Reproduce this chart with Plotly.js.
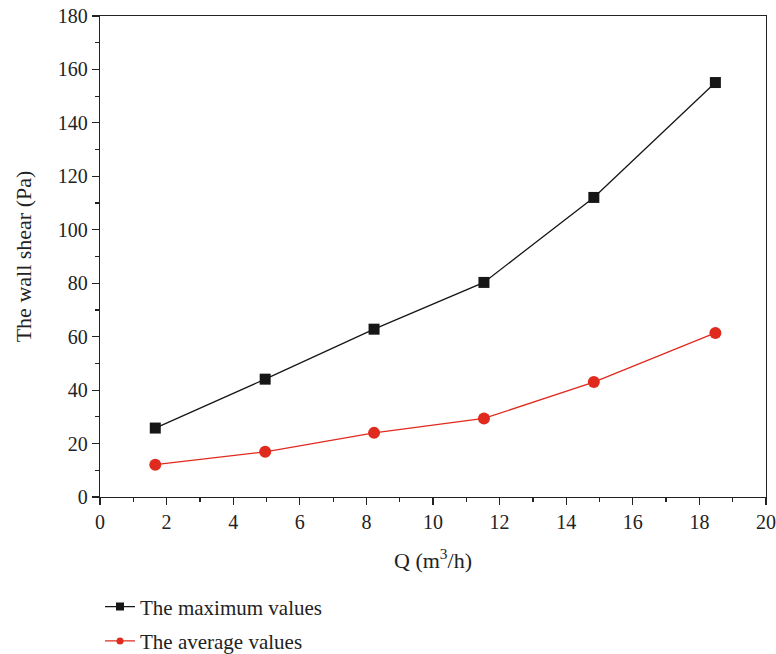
<!DOCTYPE html>
<html>
<head>
<meta charset="utf-8">
<script src="https://cdn.plot.ly/plotly-3.0.1.min.js"></script>
<style>
  html, body { margin: 0; padding: 0; background: #fff; }
  #chart { width: 776px; height: 654px; }
</style>
</head>
<body>
<div id="chart"></div>
<script>
// Flow rate Q (m³/h)
const flowRate = [1.66, 4.96, 8.23, 11.53, 14.83, 18.48];
// Wall shear stress (Pa)
const maxShear = [25.8, 44.1, 62.8, 80.3, 112.1, 155.1];
const avgShear = [12.1, 16.9, 24.0, 29.4, 43.0, 61.4];
const seriesNames = ['The maximum values', 'The average values'];

const BLACK = '#161616';
const RED = '#e02a1e';
const FONT = 'Liberation Serif, Times New Roman, serif';

const traces = [
  {
    x: flowRate, y: maxShear, type: 'scatter', mode: 'lines+markers',
    line: { color: BLACK, width: 1.3 },
    marker: { symbol: 'square', size: 11, color: BLACK },
    showlegend: false
  },
  {
    x: flowRate, y: avgShear, type: 'scatter', mode: 'lines+markers',
    line: { color: RED, width: 1.3 },
    marker: { symbol: 'circle', size: 12, color: RED },
    showlegend: false
  },
  // legend entries with smaller key symbols
  {
    x: [null], y: [null], type: 'scatter', mode: 'lines+markers', name: seriesNames[0],
    legendgroup: 'a',
    line: { color: BLACK, width: 1.3 },
    marker: { symbol: 'square', size: 8, color: BLACK }
  },
  {
    x: [null], y: [null], type: 'scatter', mode: 'lines+markers', name: seriesNames[1],
    legendgroup: 'b',
    line: { color: RED, width: 1.3 },
    marker: { symbol: 'circle', size: 7, color: RED }
  }
];

const axisCommon = {
  showgrid: false, zeroline: false,
  showline: true, linecolor: '#222', linewidth: 1.3, mirror: true,
  ticks: 'outside', ticklen: 7, tickwidth: 1.2, tickcolor: '#222',
  tickfont: { family: FONT, size: 20, color: '#222' },
  minor: { ticks: 'outside', ticklen: 3.5, tickwidth: 1.2, tickcolor: '#222', dtick: 1 }
};

const layout = {
  width: 776, height: 654,
  margin: { l: 100, r: 10, t: 16, b: 157, autoexpand: false },
  paper_bgcolor: '#fff', plot_bgcolor: '#fff',
  font: { family: FONT, color: '#222', size: 20 },
  xaxis: Object.assign({}, axisCommon, {
    range: [0, 20], dtick: 2, tick0: 0,
    minor: Object.assign({}, axisCommon.minor, { dtick: 1 }),
    title: { text: 'Q (m<sup>3</sup>/h)', font: { family: FONT, size: 22, color: '#222' }, standoff: 20 }
  }),
  yaxis: Object.assign({}, axisCommon, {
    range: [0, 180], dtick: 20, tick0: 0,
    minor: Object.assign({}, axisCommon.minor, { dtick: 10 }),
    title: { text: 'The wall shear (Pa)', font: { family: FONT, size: 22, color: '#222' }, standoff: 20 }
  }),
  showlegend: true,
  legend: {
    x: 0, xanchor: 'left', xref: 'paper',
    y: -0.186, yanchor: 'top',
    traceorder: 'grouped', tracegroupgap: 4,
    font: { family: FONT, size: 21, color: '#222' },
    bgcolor: 'rgba(0,0,0,0)'
  }
};

Plotly.newPlot('chart', traces, layout, { staticPlot: true, displayModeBar: false });
</script>
</body>
</html>
